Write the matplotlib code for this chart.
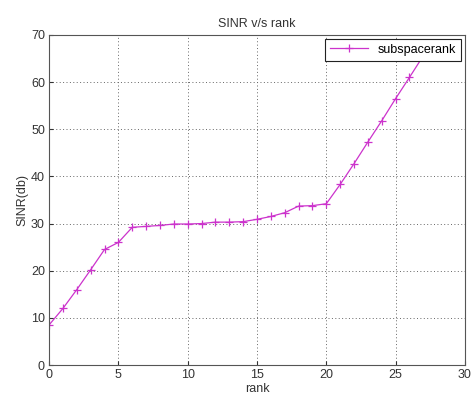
import matplotlib
matplotlib.use("Agg")
import matplotlib.pyplot as plt

rank = list(range(0, 28))
sinr = [8.5, 12.0, 16.0, 20.2, 24.5, 26.0, 29.2, 29.4, 29.6, 29.9,
        29.9, 30.0, 30.3, 30.3, 30.4, 30.9, 31.5, 32.3, 33.7, 33.8,
        34.2, 38.3, 42.7, 47.3, 51.8, 56.5, 61.0, 65.6]
xticks = [0, 5, 10, 15, 20, 25, 30]
yticks = [0, 10, 20, 30, 40, 50, 60, 70]

plt.rcParams['font.family'] = ['Liberation Sans', 'DejaVu Sans']
fig = plt.figure(figsize=(4.72, 3.97), dpi=100)
ax = fig.add_axes([0.104, 0.0806, 0.881, 0.8314])
ax.plot(rank, sinr, color='#cc33cc', marker='+', markersize=6, linewidth=0.9,
        markeredgewidth=0.9, label='subspacerank', clip_on=True)
ax.set_xlim(0, 30)
ax.set_ylim(0, 70)
ax.set_xticks(xticks)
ax.set_yticks(yticks)
ax.grid(True, linestyle=(0, (1, 2.5)), color='#666666', linewidth=0.7)
ax.tick_params(direction='in', length=3, labelsize=9, colors='#333333', pad=3)
for s in ax.spines.values():
    s.set_color('#555555')
    s.set_linewidth(0.8)
ax.set_xlabel('rank', fontsize=9, color='#333333', labelpad=1)
ax.set_ylabel('SINR(db)', fontsize=9, color='#333333', labelpad=2)
ax.set_title('SINR v/s rank', fontsize=9, color='#333333', pad=6)
leg = ax.legend(loc='upper right', fontsize=9, fancybox=False, framealpha=1,
                edgecolor='#222222', borderaxespad=0.3, handlelength=3)
leg.get_frame().set_linewidth(0.8)
fig.savefig('out.png', dpi=100)
